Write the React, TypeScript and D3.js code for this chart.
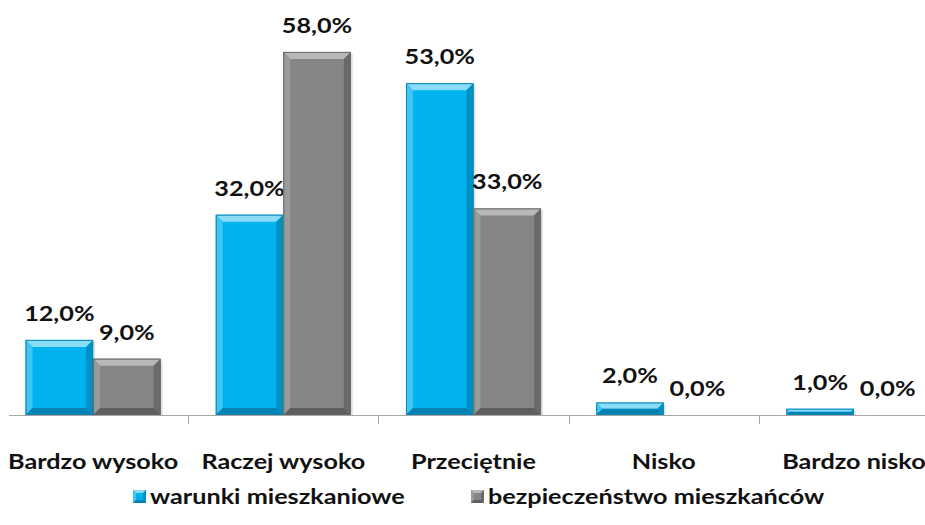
import { useEffect, useRef } from "react"
import * as d3 from "d3"

const categories = ["Bardzo wysoko", "Raczej wysoko", "Przeciętnie", "Nisko", "Bardzo nisko"]
const seriesNames = ["warunki mieszkaniowe", "bezpieczeństwo mieszkańców"]
const warunki = [12, 32, 53, 2, 1]
const bezpieczenstwo = [9, 58, 33, 0, 0]

const W = 925
const H = 525
const FONT = "Lato, 'Open Sans', sans-serif"
const SX = 1.2 // tekst w oryginale jest rozciągnięty w poziomie

const palettes = [
  { face: "#00B2EE", top: "#8ADDF8", left: "#3FC6F3", right: "#0091C4", bottom: "#0082B2", stroke: "#0A86B4" },
  { face: "#858585", top: "#B8B8B8", left: "#9A9A9A", right: "#6A6A6A", bottom: "#5E5E5E", stroke: "#666666" },
]

export default function App() {
  const svgRef = useRef<SVGSVGElement>(null)

  useEffect(() => {
    if (!svgRef.current) return
    const svg = d3.select(svgRef.current)
    svg.selectAll("*").remove()

    const baseY = 415
    const x0 = d3.scaleBand<string>().domain(categories).range([-2, 949]).paddingInner(0.29).paddingOuter(0.145)
    const x1 = d3.scaleBand<number>().domain([0, 1]).range([0, x0.bandwidth()])
    const y = d3.scaleLinear().domain([0, 60]).range([baseY, baseY - 60 * 6.26])

    const series = [warunki, bezpieczenstwo]

    const label = (tx: number, ty: number, txt: string, anchor: string, size: number) =>
      svg.append("text")
        .attr("transform", `translate(${tx},${ty}) scale(${SX},1)`)
        .attr("text-anchor", anchor)
        .style("font-family", FONT)
        .style("font-weight", "bold")
        .style("font-size", `${size}px`)
        .style("fill", "#111")
        .text(txt)

    // oś X
    svg.append("line")
      .attr("x1", 9).attr("x2", W).attr("y1", baseY + 0.5).attr("y2", baseY + 0.5)
      .style("stroke", "#A6A6A6").style("stroke-width", 1)

    // znaczniki między kategoriami
    const step = x0.step()
    categories.slice(1).forEach((c) => {
      const tx = Math.round((x0(c) as number) - (step - x0.bandwidth()) / 2) + 0.5
      svg.append("line")
        .attr("x1", tx).attr("x2", tx).attr("y1", baseY).attr("y2", baseY + 9)
        .style("stroke", "#A6A6A6").style("stroke-width", 1)
    })

    // słupki z fazowaniem
    series.forEach((vals, si) => {
      const p = palettes[si]
      vals.forEach((v, ci) => {
        const bx = (x0(categories[ci]) as number) + (x1(si) as number)
        const bw = x1.bandwidth()
        const by = y(v)
        const bh = baseY - by
        if (bh > 0.5) {
          const g = svg.append("g")
          // cień
          g.append("rect")
            .attr("x", bx + 2).attr("y", by + 2).attr("width", bw).attr("height", bh - 2)
            .style("fill", "rgba(0,0,0,0.12)")
          g.append("rect")
            .attr("x", bx).attr("y", by).attr("width", bw).attr("height", bh)
            .style("fill", p.face)
          const b = Math.min(7, bh / 2, bw / 2)
          const poly = (pts: number[][], fill: string) =>
            g.append("polygon").attr("points", pts.map((q) => q.join(",")).join(" ")).style("fill", fill)
          poly([[bx, by], [bx + bw, by], [bx + bw - b, by + b], [bx + b, by + b]], p.top)
          poly([[bx, by], [bx + b, by + b], [bx + b, by + bh - b], [bx, by + bh]], p.left)
          poly([[bx + bw, by], [bx + bw - b, by + b], [bx + bw - b, by + bh - b], [bx + bw, by + bh]], p.right)
          poly([[bx, by + bh], [bx + b, by + bh - b], [bx + bw - b, by + bh - b], [bx + bw, by + bh]], p.bottom)
          g.append("rect")
            .attr("x", bx + 0.5).attr("y", by + 0.5).attr("width", bw - 1).attr("height", Math.max(0, bh - 1))
            .style("fill", "none").style("stroke", p.stroke).style("stroke-width", 1)
        }
        // etykieta wartości
        label(bx + bw / 2, by - 19, d3.format(".1f")(v).replace(".", ",") + "%", "middle", 21)
      })
    })

    // etykiety kategorii
    categories.forEach((c) => {
      label((x0(c) as number) + x0.bandwidth() / 2, 469, c, "middle", 21)
    })

    // legenda
    const legendX = [133, 471]
    seriesNames.forEach((name, i) => {
      const p = palettes[i]
      const lx = legendX[i]
      const ly = 490
      const s = 13
      const lg = svg.append("g")
      lg.append("rect").attr("x", lx).attr("y", ly).attr("width", s).attr("height", s).style("fill", p.face)
      const b = 3
      const poly = (pts: number[][], fill: string) =>
        lg.append("polygon").attr("points", pts.map((q) => q.join(",")).join(" ")).style("fill", fill)
      poly([[lx, ly], [lx + s, ly], [lx + s - b, ly + b], [lx + b, ly + b]], p.top)
      poly([[lx, ly], [lx + b, ly + b], [lx + b, ly + s - b], [lx, ly + s]], p.left)
      poly([[lx + s, ly], [lx + s - b, ly + b], [lx + s - b, ly + s - b], [lx + s, ly + s]], p.right)
      poly([[lx, ly + s], [lx + b, ly + s - b], [lx + s - b, ly + s - b], [lx + s, ly + s]], p.bottom)
      label(lx + s + 4, ly + s + 1, name, "start", 21)
    })
  }, [])

  return (
    <svg
      ref={svgRef}
      width={W}
      height={H}
      style={{ position: "absolute", left: 0, top: 0, background: "#fff" }}
    />
  )
}
